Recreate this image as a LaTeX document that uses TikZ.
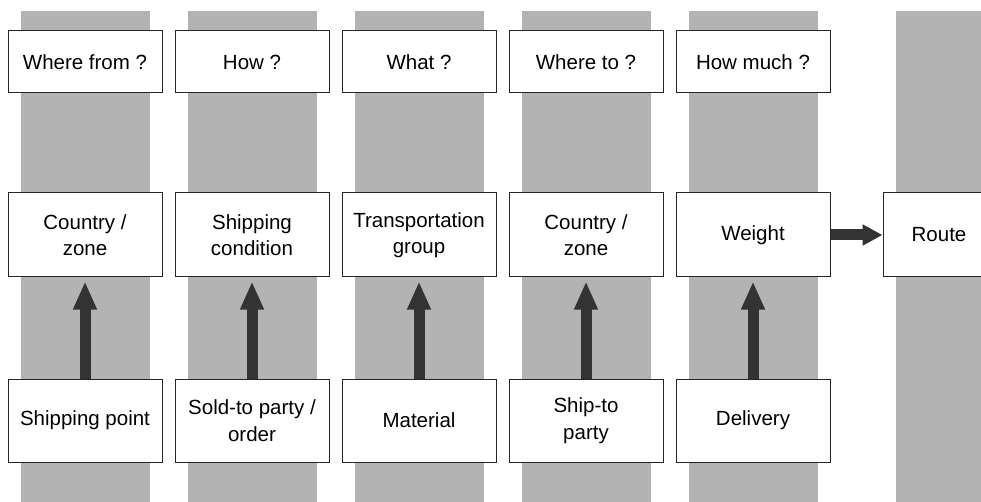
\documentclass[tikz,border=0pt]{standalone}
\usepackage{fontspec}
\setmainfont{Liberation Sans}
\usetikzlibrary{arrows.meta}
\definecolor{lane}{HTML}{B3B3B3}
\definecolor{arrowgray}{HTML}{333333}
\begin{document}
\begin{tikzpicture}[x=1pt,y=1pt,
  box/.style={draw=black!85, line width=1pt, fill=white, align=center,
    minimum width=154pt, inner sep=0pt, font=\fontsize{20.5}{26.5}\selectfont},
  qbox/.style={box, minimum height=62pt},
  vbox/.style={box, minimum height=84pt},
  bigarrow/.style={draw=arrowgray, line width=11pt,
    -{Triangle[length=28pt,width=22pt]}},
  sidearrow/.style={draw=arrowgray, line width=11pt,
    -{Triangle[length=20pt,width=20pt]}}]
\useasboundingbox (0,0) rectangle (981,-502);
\clip (0,0) rectangle (981,-502);
% grey lanes behind each column
\foreach \i in {0,...,4}
  \fill[lane] (21+167*\i,-11) rectangle (150+167*\i,-502);
\fill[lane] (896,-11) rectangle (990,-502);
% question row
\node[qbox] (q1) at (85,-62) {Where from ?};
\node[qbox] (q2) at (252,-62) {How ?};
\node[qbox] (q3) at (419,-62) {What ?};
\node[qbox] (q4) at (586,-62) {Where to ?};
\node[qbox] (q5) at (753,-62) {How much ?};
% criteria row
\node[vbox] (c1) at (85,-235) {Country /\\zone};
\node[vbox] (c2) at (252,-235) {Shipping\\condition};
\node[vbox] (c3) at (419,-235) {Transportation\\group};
\node[vbox] (c4) at (586,-235) {Country /\\zone};
\node[vbox] (c5) at (753,-235) {Weight};
\node[vbox, minimum width=112pt] (route) at (939,-235) {Route};
% source row
\node[vbox, minimum height=83pt] (s1) at (85,-420.5) {Shipping point};
\node[vbox, minimum height=83pt] (s2) at (252,-420.5) {Sold-to party /\\order};
\node[vbox, minimum height=83pt] (s3) at (419,-420.5) {Material};
\node[vbox, minimum height=83pt] (s4) at (586,-420.5) {Ship-to\\party};
\node[vbox, minimum height=83pt] (s5) at (753,-420.5) {Delivery};
% determination arrows
\foreach \i in {1,...,5}
  \draw[bigarrow, shorten >=4pt] (s\i.north) -- (c\i.south);
\draw[sidearrow] (c5.east) -- (route.west);
\end{tikzpicture}
\end{document}
